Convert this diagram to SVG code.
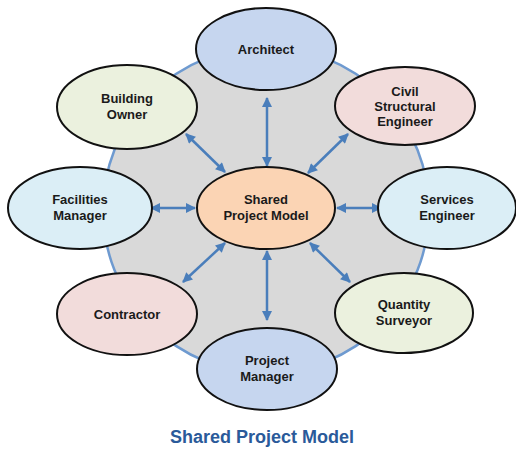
<svg xmlns="http://www.w3.org/2000/svg" width="516" height="450" viewBox="0 0 516 450">
<defs>
<marker id="ah" viewBox="0 0 10 10" refX="9" refY="5" markerWidth="11" markerHeight="10" markerUnits="userSpaceOnUse" orient="auto-start-reverse">
<path d="M0,0 L10,5 L0,10 z" fill="#4A7EBB"/>
</marker>
<style>
.n{stroke:#111;stroke-width:2}
.t{font-family:"Liberation Sans",Arial,sans-serif;font-weight:bold;font-size:13px;fill:#1a1a1a;text-anchor:middle}
.c{stroke:#4A7EBB;stroke-width:2.5;fill:none;marker-start:url(#ah);marker-end:url(#ah)}
.blue{fill:#C6D6EF}.pink{fill:#F2DCDB}.green{fill:#EBF1DE}.cyan{fill:#DBEEF6}.peach{fill:#FBD4B4}
</style>
</defs>
<rect width="516" height="450" fill="#fff"/>
<circle cx="266" cy="210" r="163" fill="#D9D9D9" stroke="#6E9AD0" stroke-width="2.5"/>
<g id="connectors">
<line class="c" x1="267" y1="98" x2="267" y2="166"/>
<line class="c" x1="267" y1="320" x2="267" y2="251"/>
<line class="c" x1="151" y1="208" x2="195" y2="208"/>
<line class="c" x1="337" y1="208" x2="381" y2="208"/>
<line class="c" x1="186" y1="134" x2="225" y2="172"/>
<line class="c" x1="348" y1="134" x2="308" y2="173"/>
<line class="c" x1="183" y1="282" x2="225" y2="243"/>
<line class="c" x1="350" y1="282" x2="310" y2="243"/>
</g>
<g id="architect"><ellipse class="n blue" cx="266" cy="49" rx="70" ry="41"/><text class="t" x="266" y="54">Architect</text></g>
<g id="civil"><ellipse class="n pink" cx="405" cy="106" rx="70" ry="39"/><text class="t" x="405" y="96">Civil</text><text class="t" x="405" y="111">Structural</text><text class="t" x="405" y="126">Engineer</text></g>
<g id="owner"><ellipse class="n green" cx="127" cy="107" rx="70" ry="42"/><text class="t" x="127" y="103">Building</text><text class="t" x="127" y="119">Owner</text></g>
<g id="facilities"><ellipse class="n cyan" cx="80" cy="208" rx="72" ry="41"/><text class="t" x="80" y="204">Facilities</text><text class="t" x="80" y="220">Manager</text></g>
<g id="center"><ellipse class="n peach" cx="266" cy="208" rx="69" ry="41"/><text class="t" x="266" y="204">Shared</text><text class="t" x="266" y="220">Project Model</text></g>
<g id="services"><ellipse class="n cyan" cx="447" cy="208" rx="69" ry="41"/><text class="t" x="447" y="204">Services</text><text class="t" x="447" y="220">Engineer</text></g>
<g id="contractor"><ellipse class="n pink" cx="127" cy="314" rx="70" ry="41"/><text class="t" x="127" y="319">Contractor</text></g>
<g id="quantity"><ellipse class="n green" cx="404" cy="313" rx="69" ry="40"/><text class="t" x="404" y="309">Quantity</text><text class="t" x="404" y="325">Surveyor</text></g>
<g id="pm"><ellipse class="n blue" cx="267" cy="369" rx="70" ry="41"/><text class="t" x="267" y="365">Project</text><text class="t" x="267" y="381">Manager</text></g>
<text x="262" y="443" style="font-family:'Liberation Sans',Arial,sans-serif;font-weight:bold;font-size:18px;fill:#2A5A9A;text-anchor:middle">Shared Project Model</text>
</svg>
